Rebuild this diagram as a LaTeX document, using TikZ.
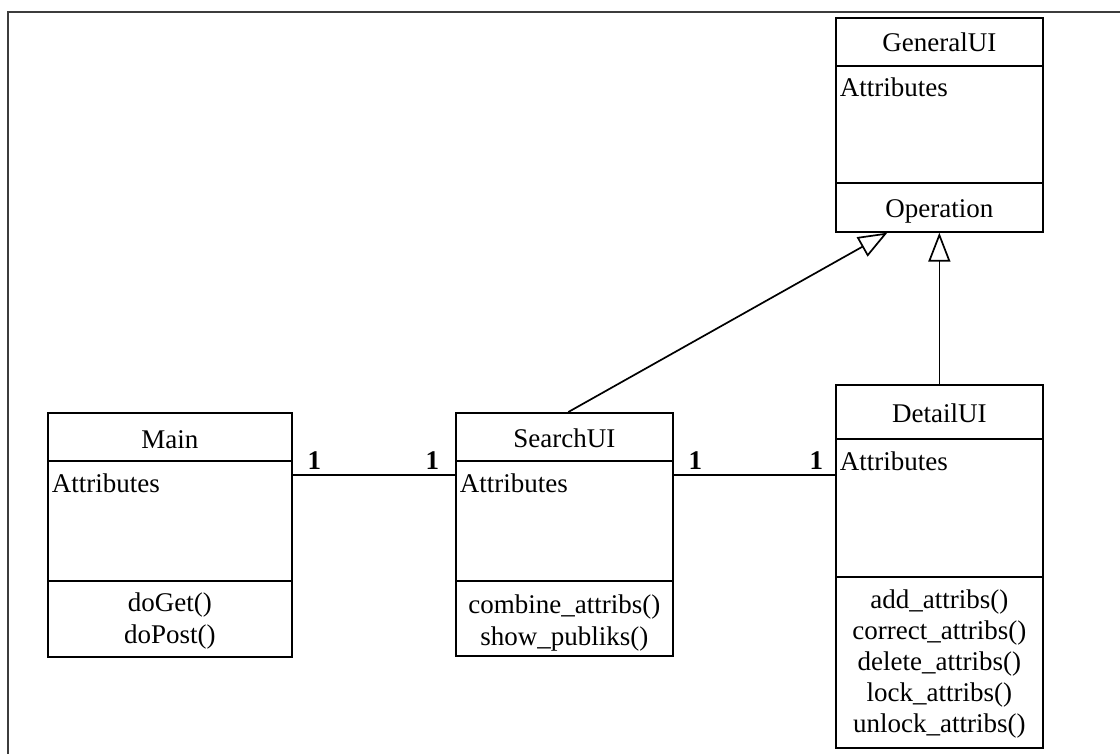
\documentclass[tikz,border=0pt]{standalone}
\usepackage{fontspec}
\setmainfont{Liberation Serif}
\usetikzlibrary{positioning,arrows.meta}
\definecolor{framegray}{HTML}{3C3C3C}

\begin{document}
\begin{tikzpicture}[x=1pt, y=-1pt, line width=1.7pt,
  class/.style={draw, rectangle, inner sep=0pt, anchor=north west},
  title/.style={font=\fontsize{27}{31}\selectfont, inner sep=0pt, anchor=base},
  attr/.style={font=\fontsize{27}{31}\selectfont, inner sep=0pt, anchor=base west},
  ops/.style={font=\fontsize{27}{31}\selectfont, inner sep=0pt, anchor=base},
  mult/.style={font=\fontsize{27}{31}\selectfont\bfseries, inner sep=0pt},
  inherit/.style={-{Triangle[open, length=29pt, width=22pt]}}]
  \useasboundingbox (0,0) rectangle (1120,754);

  % Frame
  \draw[framegray, line width=2pt] (1120,12) -- (8,12) -- (8,754);

  % Classes
  \node[class, minimum width=244pt, minimum height=244pt] (main) at (47,412) {};
  \node[class, minimum width=217pt, minimum height=243pt] (search) at (455,412) {};
  \node[class, minimum width=207pt, minimum height=214pt] (general) at (835,17) {};
  \node[class, minimum width=207pt, minimum height=363pt] (detail) at (835,384) {};

  % Compartments
  \draw ([yshift=-49pt]main.north west) -- ([yshift=-49pt]main.north east);
  \draw ([yshift=-169pt]main.north west) -- ([yshift=-169pt]main.north east);
  \draw ([yshift=-49pt]search.north west) -- ([yshift=-49pt]search.north east);
  \draw ([yshift=-169pt]search.north west) -- ([yshift=-169pt]search.north east);
  \draw ([yshift=-49pt]general.north west) -- ([yshift=-49pt]general.north east);
  \draw ([yshift=-166pt]general.north west) -- ([yshift=-166pt]general.north east);
  \draw ([yshift=-55pt]detail.north west) -- ([yshift=-55pt]detail.north east);
  \draw ([yshift=-193pt]detail.north west) -- ([yshift=-193pt]detail.north east);

  % Names
  \node[title] (mainname) at ([yshift=-36pt]main.north) {Main};
  \node[title] (searchname) at ([yshift=-35pt]search.north) {SearchUI};
  \node[title] (generalname) at ([yshift=-35pt]general.north) {GeneralUI};
  \node[title] (detailname) at ([yshift=-38pt]detail.north) {DetailUI};

  % Attributes
  \node[attr] (mainattr) at ([xshift=4pt, yshift=-80pt]main.north west) {Attributes};
  \node[attr] (searchattr) at ([xshift=4pt, yshift=-80pt]search.north west) {Attributes};
  \node[attr] (generalattr) at ([xshift=4pt, yshift=-80pt]general.north west) {Attributes};
  \node[attr] (detailattr) at ([xshift=4pt, yshift=-86pt]detail.north west) {Attributes};

  % Operations
  \foreach \op [count=\i] in {doGet(), doPost()}
    \node[ops] (mainop\i) at ([yshift={-199pt-(\i-1)*32pt}]main.north) {\op};
  \foreach \op [count=\i] in {combine\_attribs(), show\_publiks()}
    \node[ops] (searchop\i) at ([yshift={-201pt-(\i-1)*32pt}]search.north) {\op};
  \node[ops] (generalop) at ([yshift=-201pt]general.north) {Operation};
  \foreach \op [count=\i] in {add\_attribs(), correct\_attribs(), delete\_attribs(),
      lock\_attribs(), unlock\_attribs()}
    \node[ops] (detailop\i) at ([yshift={-224pt-(\i-1)*31pt}]detail.north) {\op};

  % Associations
  \draw ([yshift=-63pt]main.north east) --
    node[mult, at start, anchor=south west, xshift=14pt, yshift=5pt] (m1) {1}
    node[mult, at end, anchor=south east, xshift=-15pt, yshift=5pt] (m2) {1}
    ([yshift=-63pt]search.north west);
  \draw ([yshift=-63pt]search.north east) --
    node[mult, at start, anchor=south west, xshift=14pt, yshift=5pt] (m3) {1}
    node[mult, at end, anchor=south east, xshift=-11pt, yshift=5pt] (m4) {1}
    ([yshift=-91pt]detail.north west);

  % Generalizations
  \draw[inherit] ([xshift=4pt]search.north) -- ([xshift=-52pt]general.south);
  \draw[inherit] (detail.north) -- (general.south);

\end{tikzpicture}
\end{document}
